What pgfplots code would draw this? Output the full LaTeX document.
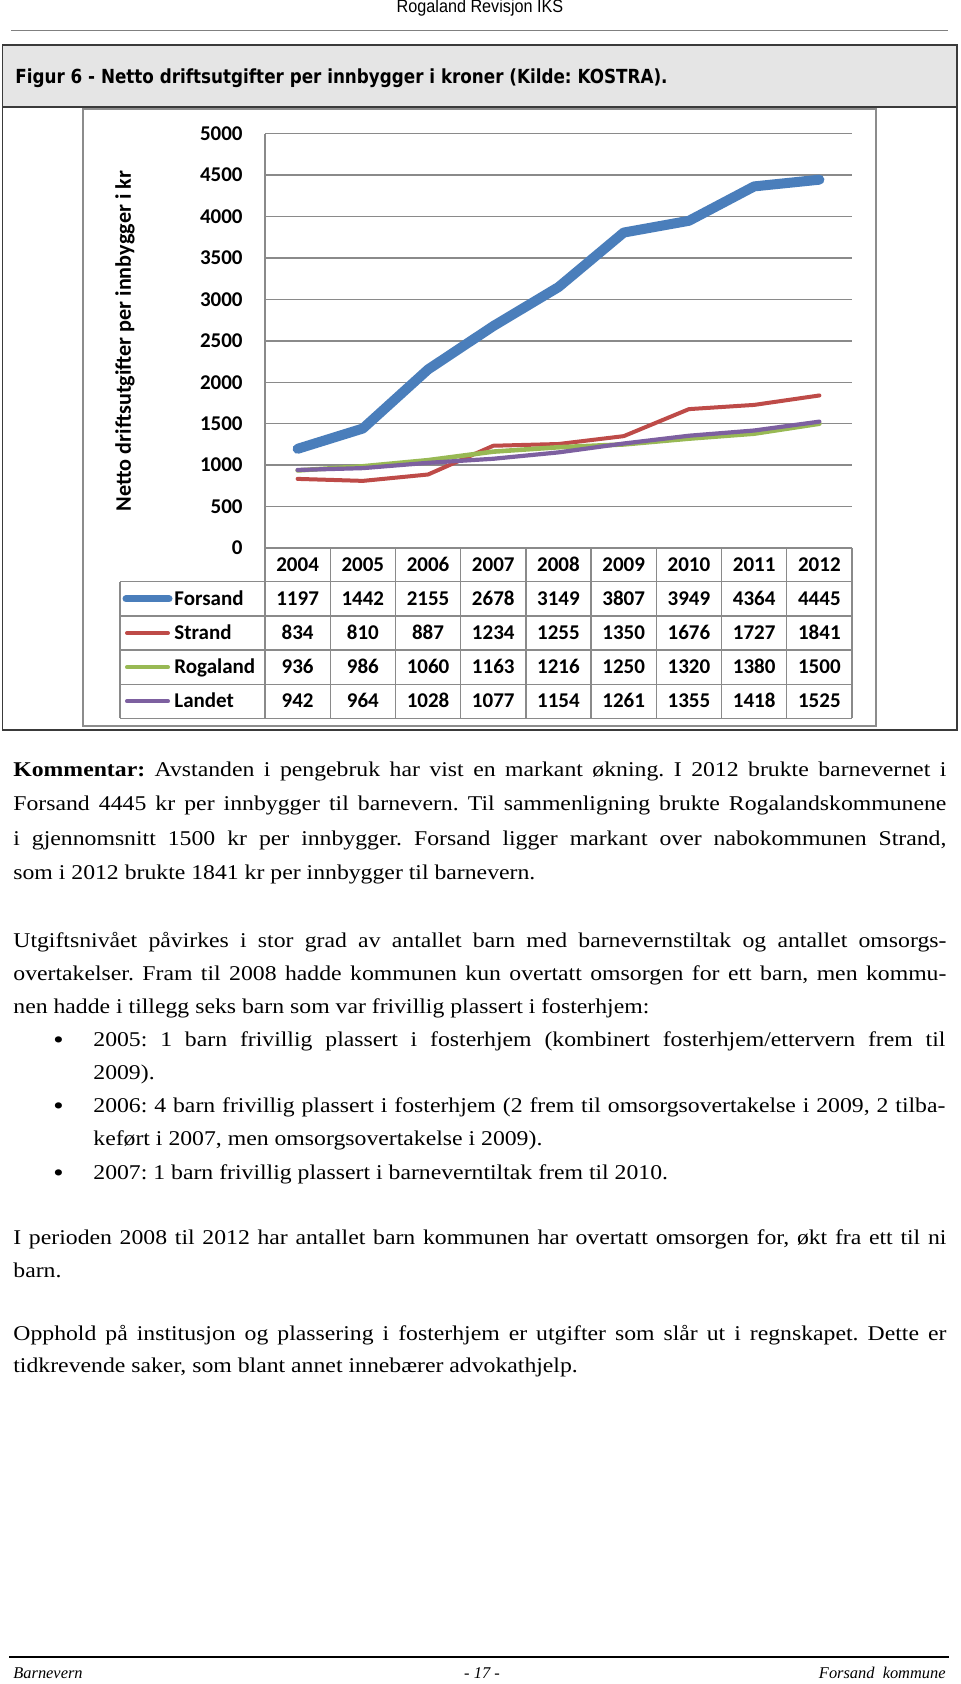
\documentclass[border=0pt]{standalone}
\usepackage{pgfplots}
\usepackage{pgfplotstable}
\pgfplotsset{compat=1.18}
\usepackage{fontspec}
\setmainfont{Liberation Serif}[FakeStretch=1.13]
\newfontfamily\footfont{Liberation Serif}
\newfontfamily\carl{Carlito}
\newfontfamily\hdrfont{Liberation Sans}[FakeStretch=0.9]
\newfontfamily\ttlfont{DejaVu Sans}[FakeStretch=0.865]
\definecolor{cBlue}{HTML}{4A7EBB}
\definecolor{cRed}{HTML}{BE4B48}
\definecolor{cGreen}{HTML}{98B954}
\definecolor{cPurple}{HTML}{7D60A0}
\definecolor{gridgray}{HTML}{8A8A8A}
\definecolor{framegray}{HTML}{8C8C8C}
\definecolor{bandgray}{HTML}{E5E5E5}
\definecolor{darkline}{HTML}{3A3A3A}
\newcommand\chf{\carl\bfseries\fontsize{10.5}{12}\selectfont}
\newcommand\bodyf{\fontsize{10.5}{12}\selectfont}
\newcommand\jl[1]{\makebox[466.5pt][s]{#1}}
\newcommand\jb[1]{\makebox[426pt][s]{#1}}
\frenchspacing

\pgfplotstableread{
yr   Forsand Strand Rogaland Landet
2004 1197 834  936  942
2005 1442 810  986  964
2006 2155 887  1060 1028
2007 2678 1234 1163 1077
2008 3149 1255 1216 1154
2009 3807 1350 1250 1261
2010 3949 1676 1320 1355
2011 4364 1727 1380 1418
2012 4445 1841 1500 1525
}\datatab

\begin{document}
\begin{tikzpicture}
\begin{scope}[x=0.5pt,y=-0.5pt]
\fill[white] (0,0) rectangle (960,1684);
\path[use as bounding box] (0,0) rectangle (960,1684);
% header
\node[anchor=base, inner sep=0pt, font=\hdrfont\fontsize{9}{10}\selectfont] at (480,13) {Rogaland Revisjon IKS};
\draw[gray, line width=0.5pt] (11,31) -- (948,31);
% title band and outer box
\fill[bandgray] (2.5,45) rectangle (957,107);
\draw[darkline, line width=0.8pt] (2.5,45) rectangle (957,730);
\draw[darkline, line width=0.8pt] (2.5,107) -- (957,107);
\draw[darkline, line width=1.4pt] (2.5,730) -- (957,730);
\node[anchor=base west, inner sep=0pt, font=\ttlfont\bfseries\fontsize{9.7}{11}\selectfont] at (15,84) {Figur 6 - Netto driftsutgifter per innbygger i kroner (Kilde: KOSTRA).};
% chart frame
\draw[framegray, line width=0.75pt] (83,109) rectangle (876,726);
\coordinate (SW) at (265,548);
% y label
\node[rotate=90, inner sep=0pt, font=\carl\bfseries\fontsize{11.1}{12}\selectfont] at (125,341) {Netto driftsutgifter per innbygger i kr};
% table lines
\foreach \yy in {581.7,616,650,684.3,718.3} \draw[gridgray, line width=0.65pt] (120,\yy) -- (852,\yy);
\draw[gridgray, line width=0.65pt] (120,581.7) -- (120,718.3);
\foreach \k in {0,...,9} \draw[gridgray, line width=0.65pt] ({265+65.22*\k},548) -- ({265+65.22*\k},718.3);
% legend keys
\draw[cBlue, line width=3.5pt, line cap=round] (126,598.9) -- (169,598.9);
\draw[cRed, line width=2pt, line cap=round] (127,633) -- (168,633);
\draw[cGreen, line width=2pt, line cap=round] (127,667.2) -- (168,667.2);
\draw[cPurple, line width=2pt, line cap=round] (127,701.3) -- (168,701.3);
\foreach \lab/\yy in {Forsand/598.9,Strand/633,Rogaland/667.2,Landet/701.3}
  \node[anchor=base west, inner sep=0pt, font=\chf] at (174,\yy+6.6) {\lab};
% table values
\foreach \r in {0,...,8}{
  \pgfplotstablegetelem{\r}{yr}\of\datatab
  \node[anchor=base, inner sep=0pt, font=\chf] at ({297.6+65.22*\r},571.5) {\pgfplotsretval};
  \pgfplotstablegetelem{\r}{Forsand}\of\datatab
  \node[anchor=base, inner sep=0pt, font=\chf] at ({297.6+65.22*\r},605.5) {\pgfplotsretval};
  \pgfplotstablegetelem{\r}{Strand}\of\datatab
  \node[anchor=base, inner sep=0pt, font=\chf] at ({297.6+65.22*\r},639.6) {\pgfplotsretval};
  \pgfplotstablegetelem{\r}{Rogaland}\of\datatab
  \node[anchor=base, inner sep=0pt, font=\chf] at ({297.6+65.22*\r},673.8) {\pgfplotsretval};
  \pgfplotstablegetelem{\r}{Landet}\of\datatab
  \node[anchor=base, inner sep=0pt, font=\chf] at ({297.6+65.22*\r},707.9) {\pgfplotsretval};
}
% body text
\begin{scope}[every node/.style={anchor=base west, inner sep=0pt, font=\bodyf}]
\node at (13,776) {\jl{\textbf{Kommentar:} Avstanden i pengebruk har vist en markant økning. I 2012 brukte barnevernet i}};
\node at (13,810) {\jl{Forsand 4445 kr per innbygger til barnevern. Til sammenligning brukte Rogalandskommunene}};
\node at (13,845) {\jl{i gjennomsnitt 1500 kr per innbygger. Forsand ligger markant over nabokommunen Strand,}};
\node at (13,879) {som i 2012 brukte 1841 kr per innbygger til barnevern.};
\node at (13,947) {\jl{Utgiftsnivået påvirkes i stor grad av antallet barn med barnevernstiltak og antallet omsorgs-}};
\node at (13,980) {\jl{overtakelser. Fram til 2008 hadde kommunen kun overtatt omsorgen for ett barn, men kommu-}};
\node at (13,1013) {nen hadde i tillegg seks barn som var frivillig plassert i fosterhjem:};
\node[font=\fontsize{13}{14}\selectfont] at (53,1048) {•};
\node at (93,1046) {\jb{2005: 1 barn frivillig plassert i fosterhjem (kombinert fosterhjem/ettervern frem til}};
\node at (93,1079.5) {2009).};
\node[font=\fontsize{13}{14}\selectfont] at (53,1114.5) {•};
\node at (93,1112.5) {\jb{2006: 4 barn frivillig plassert i fosterhjem (2 frem til omsorgsovertakelse i 2009, 2 tilba-}};
\node at (93,1145.5) {keført i 2007, men omsorgsovertakelse i 2009).};
\node[font=\fontsize{13}{14}\selectfont] at (53,1181) {•};
\node at (93,1179) {2007: 1 barn frivillig plassert i barneverntiltak frem til 2010.};
\node at (13,1244) {\jl{I perioden 2008 til 2012 har antallet barn kommunen har overtatt omsorgen for, økt fra ett til ni}};
\node at (13,1277) {barn.};
\node at (13,1340.5) {\jl{Opphold på institusjon og plassering i fosterhjem er utgifter som slår ut i regnskapet. Dette er}};
\node at (13,1372.5) {tidkrevende saker, som blant annet innebærer advokathjelp.};
\end{scope}
% footer
\draw[black, line width=0.7pt] (9,1657) -- (949,1657);
\node[anchor=base west, inner sep=0pt, font=\footfont\itshape\fontsize{8.2}{10}\selectfont] at (13,1678) {Barnevern};
\node[anchor=base, inner sep=0pt, font=\footfont\itshape\fontsize{8.2}{10}\selectfont] at (482,1678) {- 17 -};
\node[anchor=base east, inner sep=0pt, font=\footfont\itshape\fontsize{8.2}{10}\selectfont] at (946,1678) {Forsand\ \ kommune};
\end{scope}
\begin{axis}[
  at={(SW)}, anchor=south west, scale only axis,
  width=293.5pt, height=207.15pt,
  xmin=-0.5, xmax=8.5, ymin=0, ymax=5000,
  ytick={0,500,...,5000}, xtick=\empty,
  ymajorgrids, grid style={color=gridgray, line width=0.65pt},
  axis x line=none, axis y line=left,
  y axis line style={-, color=gridgray, line width=0.65pt},
  major tick length=0pt,
  yticklabel style={font=\chf, anchor=east, inner sep=0pt, xshift=-11pt},
  /pgf/number format/assume math mode=true,
  /pgf/number format/1000 sep={},
  clip=false,
]
\addplot[cBlue, line width=5pt, line cap=round, line join=round] table[x expr=\coordindex, y=Forsand] {\datatab};
\addplot[cRed, line width=2pt, line cap=round, line join=round] table[x expr=\coordindex, y=Strand] {\datatab};
\addplot[cGreen, line width=2.3pt, line cap=round, line join=round] table[x expr=\coordindex, y=Rogaland] {\datatab};
\addplot[cPurple, line width=2.1pt, line cap=round, line join=round] table[x expr=\coordindex, y=Landet] {\datatab};
\end{axis}
\end{tikzpicture}
\end{document}
